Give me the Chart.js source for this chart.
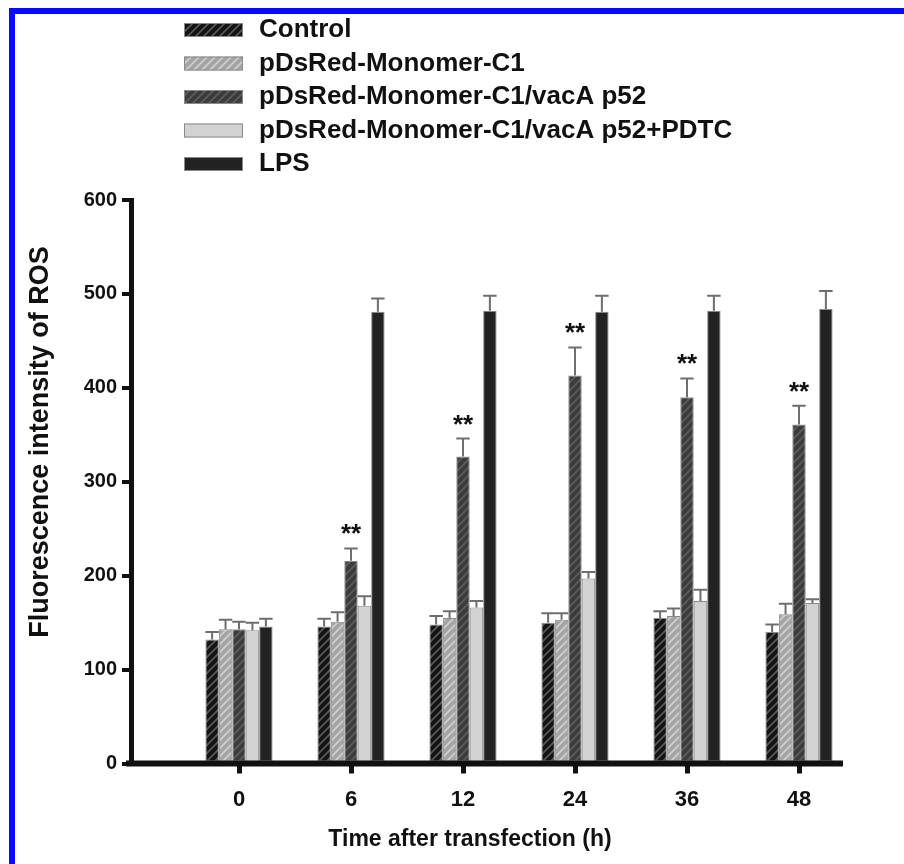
<!DOCTYPE html>
<html>
<head>
<meta charset="utf-8">
<script src="https://cdn.jsdelivr.net/npm/chart.js@4.4.1/dist/chart.umd.min.js"></script>
<style>
  html, body { margin: 0; padding: 0; background: #fff; }
</style>
</head>
<body>
<canvas id="ros-chart" width="904" height="864"></canvas>
<script>
// values (means and upper SD)
const timePoints = ["0", "6", "12", "24", "36", "48"];
const seriesNames = ["Control", "pDsRed-Monomer-C1", "pDsRed-Monomer-C1/vacA p52",
  "pDsRed-Monomer-C1/vacA p52+PDTC", "LPS"];
const controlMean = [132, 146, 148, 150, 155, 140];
const controlSd = [8, 8, 9, 10, 7, 8];
const monomerMean = [143, 151, 155, 153, 157, 159];
const monomerSd = [10, 10, 7, 7, 8, 11];
const vacAMean = [143, 216, 327, 413, 390, 361];
const vacASd = [8, 13, 19, 30, 20, 20];
const pdtcMean = [142, 168, 166, 197, 173, 171];
const pdtcSd = [8, 10, 7, 7, 12, 4];
const lpsMean = [146, 481, 482, 481, 482, 484];
const lpsSd = [8, 14, 16, 17, 16, 19];
const vacAStars = ["", "**", "**", "**", "**", "**"];
const yMax = 600;
const yStep = 100;

const FONT = "'Liberation Sans', Arial, sans-serif";
const NARROW = "'Liberation Sans Narrow', " + FONT;
const INK = "#111";
const Y_SHIFT = 52;     // y axis sits left of the first category gap
const X_AXIS_END = 843;

//x labels in the figure are a condensed face, use it only if it is installed
const hasNarrow = (() => {
  const g = document.createElement("canvas").getContext("2d");
  g.font = "bold 30px 'Liberation Sans Narrow', monospace";
  const a = g.measureText("Time after").width;
  g.font = "bold 30px monospace";
  return a !== g.measureText("Time after").width;
})();
const xFont = hasNarrow ? NARROW : FONT;
const xLabelSize = hasNarrow ? 25 : 22;
const xTitleSize = hasNarrow ? 27 : 23;

//diagonal hatch fills like the prism bars
function hatch(base, line) {
  const c = document.createElement("canvas");
  c.width = 8; c.height = 8;
  const g = c.getContext("2d");
  g.fillStyle = base;
  g.fillRect(0, 0, 8, 8);
  if (line) {
    g.strokeStyle = line;
    g.lineWidth = 1.6;
    g.beginPath();
    g.moveTo(0, 8); g.lineTo(8, 0);
    g.moveTo(-1, 1); g.lineTo(1, -1);
    g.moveTo(7, 9); g.lineTo(9, 7);
    g.stroke();
  }
  return g.createPattern(c, "repeat");
}

const fills = [
  hatch("#141414", "#5a5a5a"),
  hatch("#a4a4a4", "#cfcfcf"),
  hatch("#3c3c3c", "#5e5e5e"),
  "#d2d2d2",
  "#222222"
];
const means = [controlMean, monomerMean, vacAMean, pdtcMean, lpsMean];
const sds = [controlSd, monomerSd, vacASd, pdtcSd, lpsSd];

const datasets = seriesNames.map((name, i) => ({
  label: name,
  data: means[i],
  sd: sds[i],
  backgroundColor: fills[i],
  borderColor: "#8a8a8a",
  borderWidth: 1,
  borderSkipped: false
}));

//move the y scale left after layout so the axis line leaves a gap before "0"
const shiftY = {
  id: "shiftY",
  afterLayout(chart) {
    const y = chart.scales.y;
    y.left -= Y_SHIFT;
    y.right -= Y_SHIFT;
  }
};

const paper = {
  id: "paper",
  beforeDraw(chart) {
    const ctx = chart.ctx;
    ctx.save();
    ctx.fillStyle = "#fff";
    ctx.fillRect(0, 0, chart.width, chart.height);
    ctx.restore();
  },
  afterDatasetsDraw(chart) {
    const ctx = chart.ctx;
    const y = chart.scales.y;
    ctx.save();
    ctx.strokeStyle = "#6e6e6e";
    ctx.lineWidth = 2;
    chart.data.datasets.forEach((ds, i) => {
      chart.getDatasetMeta(i).data.forEach((bar, j) => {
        const top = y.getPixelForValue(ds.data[j] + ds.sd[j]);
        const half = bar.width / 2;
        ctx.beginPath();
        ctx.moveTo(bar.x, bar.y);
        ctx.lineTo(bar.x, top);
        ctx.moveTo(bar.x - half, top);
        ctx.lineTo(bar.x + half, top);
        ctx.stroke();
      });
    });
    // ** over the vacA p52 bars
    const vac = chart.getDatasetMeta(2).data;
    ctx.fillStyle = INK;
    ctx.font = "bold 26px " + FONT;
    ctx.textAlign = "center";
    ctx.textBaseline = "alphabetic";
    vac.forEach((bar, j) => {
      if (!vacAStars[j]) return;
      const top = y.getPixelForValue(vacAMean[j] + vacASd[j]);
      ctx.fillText(vacAStars[j], bar.x, top - 21 + 15);
    });
    ctx.restore();
  },
  afterDraw(chart) {
    const ctx = chart.ctx;
    const y = chart.scales.y;
    const x0 = y.getPixelForValue(0);
    ctx.save();
    // x axis line, runs from the y axis
    ctx.fillStyle = INK;
    ctx.fillRect(y.right - 5, x0 - 3, X_AXIS_END - y.right + 5, 6);

    // legend
    ctx.textAlign = "left";
    ctx.textBaseline = "middle";
    ctx.font = "bold 26px " + FONT;
    seriesNames.forEach((name, i) => {
      const cy = 30 + i * 33.5;
      ctx.fillStyle = fills[i];
      ctx.fillRect(184, cy - 7, 59, 14);
      ctx.strokeStyle = "#8a8a8a";
      ctx.lineWidth = 1;
      ctx.strokeRect(184.5, cy - 6.5, 58, 13);
      ctx.fillStyle = INK;
      ctx.fillText(name, 259, cy);
    });

    // axis titles
    ctx.textAlign = "center";
    ctx.font = "bold " + xTitleSize + "px " + xFont;
    ctx.fillText("Time after transfection (h)", 470, 840);
    ctx.translate(41, 442);
    ctx.rotate(-Math.PI / 2);
    ctx.font = "bold 27px " + FONT;
    ctx.fillText("Fluorescence intensity of ROS", 0, 0);
    ctx.restore();

    // blue frame of the figure panel
    ctx.save();
    ctx.fillStyle = "#0a0aff";
    ctx.fillRect(9, 8, 6, chart.height - 8);
    ctx.fillRect(9, 8, chart.width - 9, 6);
    ctx.restore();
  }
};

const rosCanvas = document.getElementById("ros-chart");
const rosChart = new Chart(rosCanvas, {
  type: "bar",
  data: { labels: timePoints, datasets: datasets },
  options: {
    responsive: false,
    devicePixelRatio: 1,
    animation: false,
    layout: { padding: { left: 123, right: 49, top: 200, bottom: 40.5 } },
    datasets: { bar: { categoryPercentage: 0.6, barPercentage: 1.0 } },
    scales: {
      x: {
        offset: true,
        grid: { display: true, drawOnChartArea: false, offset: false, tickLength: 10, lineWidth: 5, color: INK },
        border: { display: false },
        ticks: { color: INK, padding: 13, font: { family: xFont, size: xLabelSize, weight: "bold" } },
        afterFit(scale) { scale.height = 60; }
      },
      y: {
        min: 0,
        max: yMax,
        ticks: { stepSize: yStep, color: INK, padding: 5, font: { family: FONT, size: 20, weight: "bold" } },
        grid: { drawOnChartArea: false, tickLength: 9, lineWidth: 4, color: INK },
        border: { display: true, width: 5, color: INK },
        afterFit(scale) { scale.width = 60; }
      }
    },
    plugins: { legend: { display: false }, tooltip: { enabled: false } }
  },
  plugins: [shiftY, paper]
});
</script>
</body>
</html>
